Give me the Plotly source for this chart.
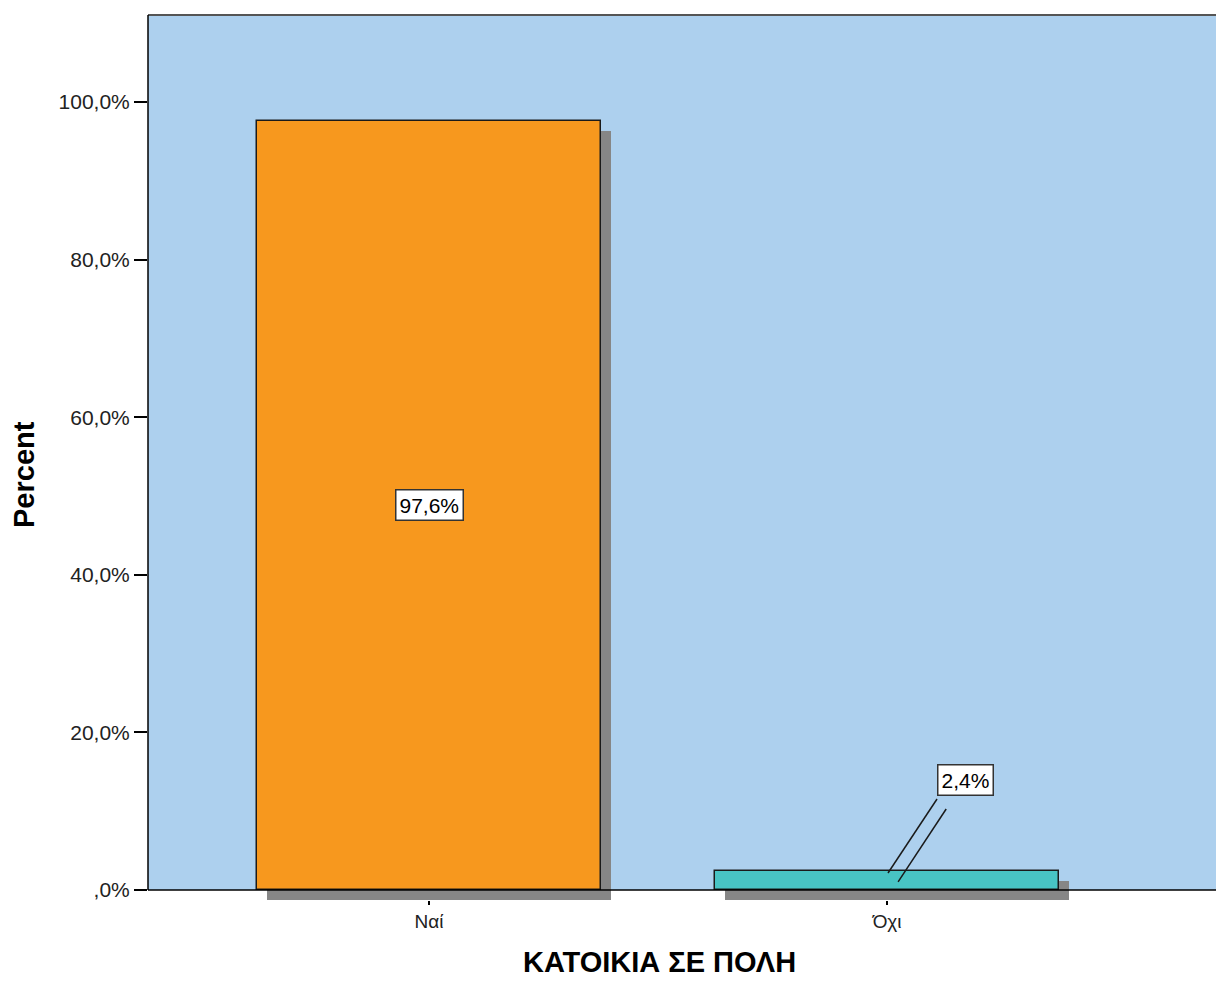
import plotly.graph_objects as go

# ---- data ----
categories = ["Ναί", "Όχι"]
percent_values = [97.6, 2.4]
value_labels = ["97,6%", "2,4%"]
bar_colors = ["#F7981E", "#48C4C4"]
y_tick_values = [0, 20, 40, 60, 80, 100]
y_tick_labels = [",0%", "20,0%", "40,0%", "60,0%", "80,0%", "100,0%"]

FONT = "Liberation Sans, Arial, sans-serif"
idx = list(range(len(categories)))
bar_w = 0.751
sh_dx = 0.0218   # shadow offset (x, in category units)
sh_dy = 1.27     # shadow offset (y, in percent units)

fig = go.Figure()

# shadows
fig.add_trace(go.Bar(
    x=[i + sh_dx for i in idx], y=percent_values, base=[-sh_dy] * len(idx),
    width=bar_w, marker=dict(color="#868686", line=dict(width=0)),
    hoverinfo="skip", showlegend=False))
# bars
fig.add_trace(go.Bar(
    x=idx, y=percent_values, width=bar_w,
    marker=dict(color=bar_colors, line=dict(color="#1a1a1a", width=1.5)),
    showlegend=False))

shapes = [
    # white area below the zero line
    dict(type="rect", xref="paper", yref="y", x0=0, x1=1, y0=-sh_dy - 0.5, y1=0,
         fillcolor="white", line=dict(width=0), layer="below"),
    # x axis line at zero
    dict(type="line", xref="paper", yref="y", x0=0, x1=1, y0=0, y1=0,
         line=dict(color="black", width=1.5), layer="above"),
    # top border
    dict(type="line", xref="paper", yref="paper", x0=0, x1=1, y0=1, y1=1,
         line=dict(color="#555555", width=2), layer="above"),
    # left axis line (from zero to top)
    dict(type="line", xref="paper", yref="y", x0=0, x1=0, y0=0, y1=111.04,
         line=dict(color="black", width=1.5), layer="above"),
]

# leader lines for small-bar label (SPSS style double line)
v = percent_values[1]
shapes.append(dict(type="line", xref="x", yref="y", x0=1.002, y0=v - 0.24, x1=1.109, y1=v + 9.15,
                   line=dict(color="#1a1a1a", width=1.5)))
shapes.append(dict(type="line", xref="x", yref="y", x0=1.024, y0=v - 1.38, x1=1.129, y1=v + 7.88,
                   line=dict(color="#1a1a1a", width=1.5)))

plot_l, plot_t, plot_r, plot_b = 148, 15, 1216, 900

annotations = [
    dict(x=0, y=percent_values[0] / 2, xref="x", yref="y", text=value_labels[0],
         showarrow=False, bgcolor="white", bordercolor="#333333", borderwidth=1.5,
         borderpad=3, xanchor="center", yanchor="middle",
         font=dict(family=FONT, size=21, color="black")),
    dict(x=1.172, y=percent_values[1] + 11.56, xref="x", yref="y", text=value_labels[1],
         showarrow=False, bgcolor="white", bordercolor="#333333", borderwidth=1.5,
         borderpad=3, xanchor="center", yanchor="middle",
         font=dict(family=FONT, size=21, color="black")),
    dict(x=(659 - plot_l) / (plot_r - plot_l), y=(plot_b - 980) / (plot_b - plot_t),
         xref="paper", yref="paper", text="<b>ΚΑΤΟΙΚΙΑ ΣΕ ΠΟΛΗ</b>",
         showarrow=False, xanchor="center", yanchor="bottom",
         font=dict(family=FONT, size=29, color="black")),
    dict(x=(24 - plot_l) / (plot_r - plot_l), y=(plot_b - 475) / (plot_b - plot_t),
         xref="paper", yref="paper", text="<b>Percent</b>", textangle=-90,
         showarrow=False, xanchor="center", yanchor="middle",
         font=dict(family=FONT, size=29, color="black")),
]

fig.update_layout(
    width=1216, height=981,
    margin=dict(l=148, r=0, t=15, b=81, pad=0),
    paper_bgcolor="white", plot_bgcolor="#ADD0EE",
    barmode="overlay", bargap=0,
    shapes=shapes, annotations=annotations,
    font=dict(family=FONT, color="black"),
    xaxis=dict(range=[-0.6135, 1.718], tickvals=idx, ticktext=categories,
               ticks="outside", ticklen=4, tickwidth=1.5, tickcolor="black",
               showgrid=False, zeroline=False, showline=False,
               tickfont=dict(family=FONT, size=19, color="#222222")),
    yaxis=dict(range=[-sh_dy, 111.04], tickvals=y_tick_values, ticktext=y_tick_labels,
               ticks="outside", ticklen=13, tickwidth=1.5, tickcolor="black",
               showgrid=False, zeroline=False, showline=False,
               tickfont=dict(family=FONT, size=21, color="#222222")),
)

fig.write_html("out.html", config={"displayModeBar": False},
               post_script="document.body.style.margin='0';")
